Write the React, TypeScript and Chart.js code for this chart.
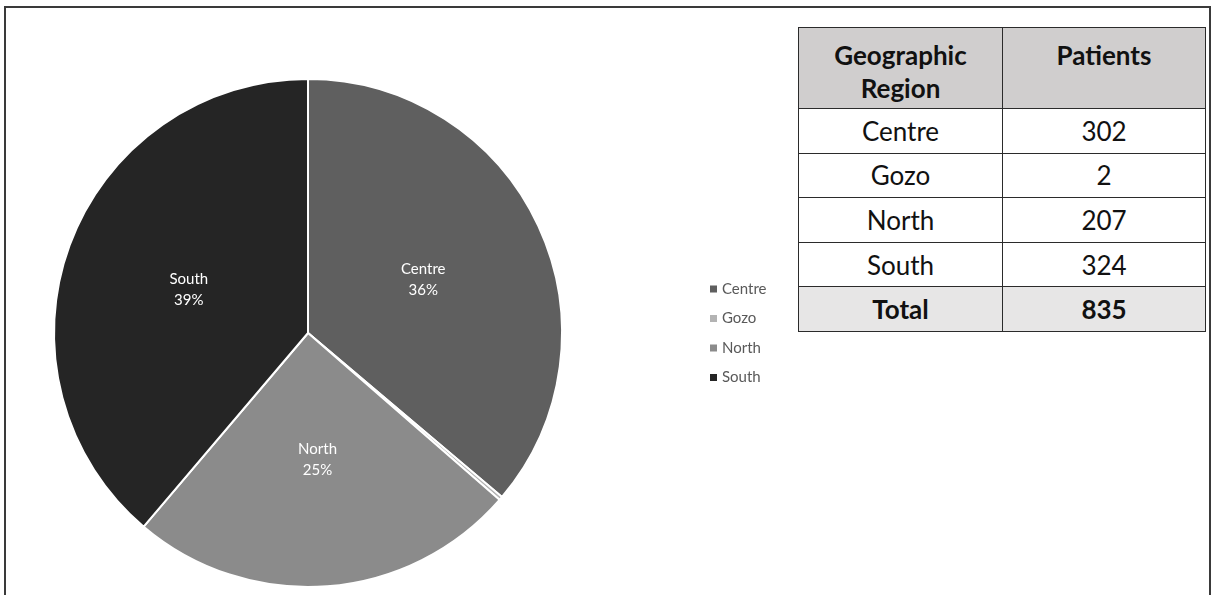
import React, { useEffect, useRef } from "react";
import { Chart, registerables } from "chart.js";

Chart.register(...registerables);

const regions = ["Centre", "Gozo", "North", "South"];
const patients = [302, 2, 207, 324];
const total = 835;
const sliceColors = ["#5f5f5f", "#b3b3b3", "#8b8b8b", "#252525"];
const headerLabels = ["Geographic Region", "Patients"];
const totalLabel = "Total";

const FONT = "Lato, 'Open Sans', sans-serif";

const labelPlugin = {
  id: "sliceLabels",
  afterDatasetsDraw(chart: any) {
    const ctx = chart.ctx;
    const meta = chart.getDatasetMeta(0);
    const data = chart.data.datasets[0].data as number[];
    const sum = data.reduce((a, b) => a + b, 0);
    ctx.save();
    ctx.fillStyle = "#ffffff";
    ctx.font = `15px ${FONT}`;
    ctx.textAlign = "center";
    ctx.textBaseline = "middle";
    meta.data.forEach((arc: any, i: number) => {
      const pct = (data[i] / sum) * 100;
      if (pct < 1) return;
      const p = arc.tooltipPosition();
      ctx.fillText(String(chart.data.labels[i]), p.x, p.y - 10.5);
      ctx.fillText(`${Math.round(pct)}%`, p.x, p.y + 11);
    });
    ctx.restore();
  },
};

const legendPlugin = {
  id: "sideLegend",
  afterDraw(chart: any) {
    const ctx = chart.ctx;
    const labels = chart.data.labels as string[];
    const colors = chart.data.datasets[0].backgroundColor as string[];
    ctx.save();
    ctx.font = `15px ${FONT}`;
    ctx.textBaseline = "middle";
    ctx.textAlign = "left";
    labels.forEach((l, i) => {
      const y = 289 + i * 29.5;
      ctx.fillStyle = colors[i];
      ctx.fillRect(710, y - 3.5, 7, 7);
      ctx.fillStyle = "#595959";
      ctx.fillText(l, 722, y);
    });
    ctx.restore();
  },
};

function PieChart() {
  const ref = useRef<HTMLCanvasElement>(null);
  useEffect(() => {
    if (!ref.current) return;
    const chart = new Chart(ref.current, {
      type: "pie",
      data: {
        labels: regions,
        datasets: [
          {
            data: patients,
            backgroundColor: sliceColors,
            borderColor: "#ffffff",
            borderWidth: 2,
          },
        ],
      },
      options: {
        responsive: false,
        animation: false,
        layout: { padding: { left: 53, right: 652, top: 78, bottom: 7 } },
        plugins: {
          legend: { display: false },
          tooltip: { enabled: false },
        },
      },
      plugins: [labelPlugin, legendPlugin],
    });
    return () => chart.destroy();
  }, []);
  return (
    <canvas
      ref={ref}
      width={1215}
      height={595}
      style={{ position: "absolute", left: 0, top: 0, width: 1215, height: 595 }}
    />
  );
}

function DataTable() {
  const border = "1.5px solid #2b2b2b";
  const cell: React.CSSProperties = {
    border,
    textAlign: "center",
    padding: 0,
    fontSize: 26,
    color: "#111",
  };
  const rowH = 44.6;
  return (
    <table
      style={{
        position: "absolute",
        left: 798,
        top: 27,
        width: 405,
        borderCollapse: "collapse",
        fontFamily: FONT,
        tableLayout: "fixed",
      }}
    >
      <tbody>
        <tr style={{ height: 81, background: "#d0cece" }}>
          {headerLabels.map((h, i) => (
            <td
              key={h}
              style={{
                ...cell,
                fontWeight: 700,
                verticalAlign: "top",
                paddingTop: 11,
                lineHeight: "33px",
                width: i === 0 ? 203 : 202,
              }}
            >
              {i === 0 ? (
                <>
                  Geographic
                  <br />
                  Region
                </>
              ) : (
                h
              )}
            </td>
          ))}
        </tr>
        {regions.map((r, i) => (
          <tr key={r} style={{ height: rowH, background: "#ffffff" }}>
            <td style={cell}>{r}</td>
            <td style={cell}>{patients[i]}</td>
          </tr>
        ))}
        <tr style={{ height: rowH, background: "#e7e6e6" }}>
          <td style={{ ...cell, fontWeight: 700 }}>{totalLabel}</td>
          <td style={{ ...cell, fontWeight: 700 }}>{total}</td>
        </tr>
      </tbody>
    </table>
  );
}

export default function App() {
  return (
    <div
      style={{
        position: "absolute",
        left: 0,
        top: 0,
        width: 1215,
        height: 595,
        overflow: "hidden",
        background: "#ffffff",
      }}
    >
      <div
        style={{
          position: "absolute",
          left: 4,
          top: 6,
          width: 1207,
          height: 700,
          border: "2px solid #3a3a3a",
          boxSizing: "border-box",
        }}
      />
      <PieChart />
      <DataTable />
    </div>
  );
}
